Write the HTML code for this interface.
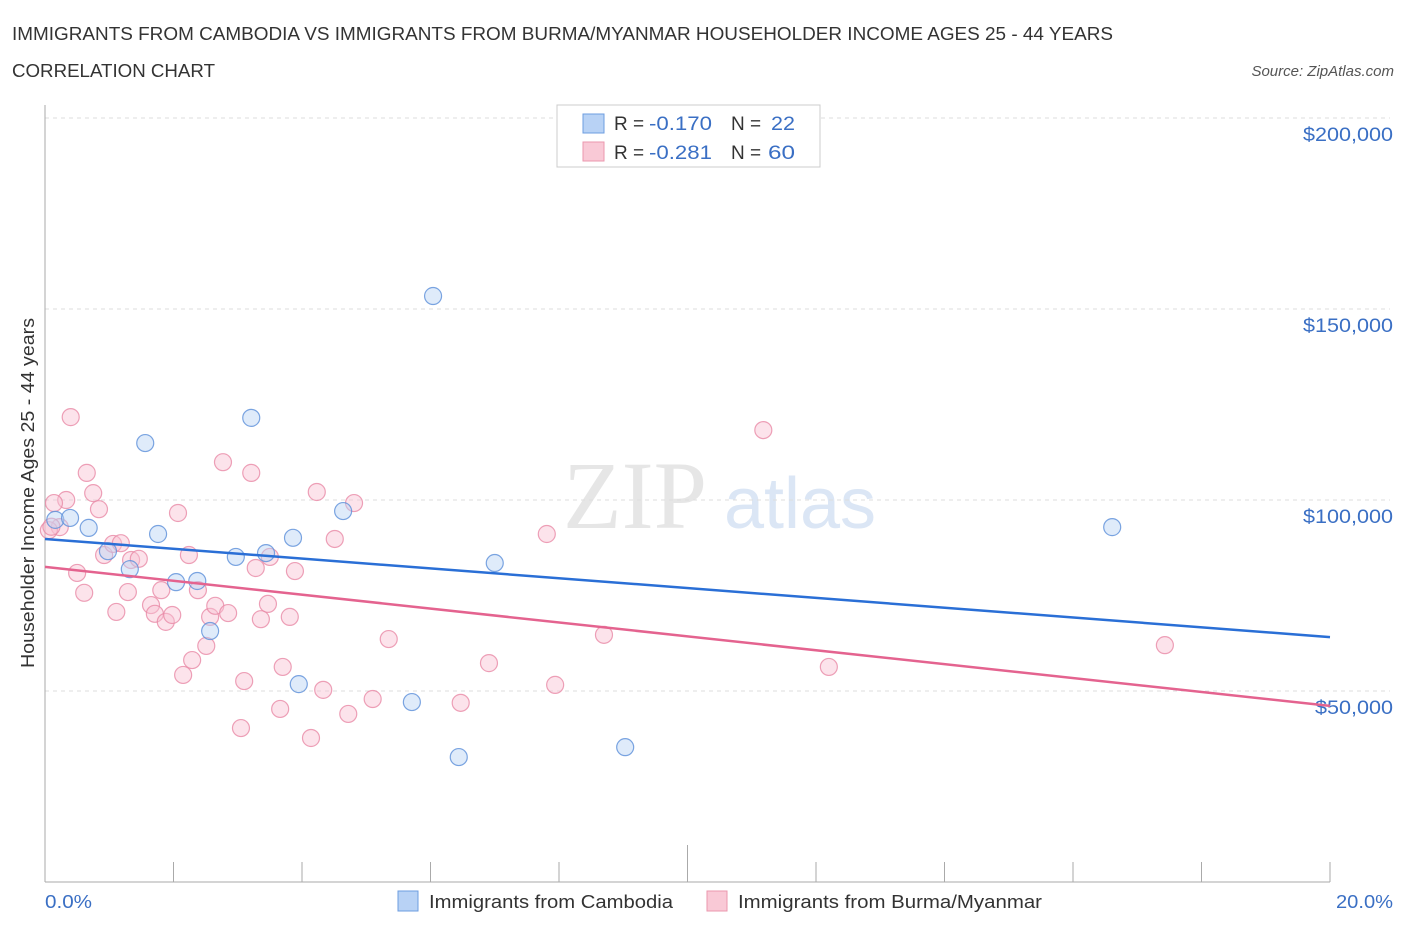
<!DOCTYPE html>
<html><head><meta charset="utf-8"><style>
body{margin:0;background:#fff;font-family:"Liberation Sans",sans-serif}
</style></head><body>
<svg id="chart" width="1406" height="930" xmlns="http://www.w3.org/2000/svg" font-family="Liberation Sans, sans-serif">
<text x="12" y="40" font-size="18" fill="#333" textLength="1101" lengthAdjust="spacingAndGlyphs">IMMIGRANTS FROM CAMBODIA VS IMMIGRANTS FROM BURMA/MYANMAR HOUSEHOLDER INCOME AGES 25 - 44 YEARS</text>
<text x="12" y="77" font-size="18" fill="#333" textLength="203" lengthAdjust="spacingAndGlyphs">CORRELATION CHART</text>
<text x="1394" y="76" font-size="15" fill="#555" font-style="italic" text-anchor="end">Source: ZipAtlas.com</text>
<text x="635" y="528" font-size="96" fill="#e6e6e6" text-anchor="middle" font-family="Liberation Serif, serif">ZIP</text>
<text x="800" y="528" font-size="72" fill="#dbe6f5" text-anchor="middle">atlas</text>
<g id="grid"></g><g id="axes"></g><g id="pts"></g><g id="lines"></g>
<text transform="translate(34,493) rotate(-90)" font-size="18" fill="#333" text-anchor="middle" textLength="350" lengthAdjust="spacingAndGlyphs">Householder Income Ages 25 - 44 years</text>
<text x="45" y="908" font-size="18" fill="#3a6fc4" textLength="47" lengthAdjust="spacingAndGlyphs">0.0%</text>
<text x="1393" y="908" font-size="18" fill="#3a6fc4" text-anchor="end" textLength="57" lengthAdjust="spacingAndGlyphs">20.0%</text>
<g>
<rect x="557" y="105" width="263" height="62" fill="#fff" stroke="#ccc"/>
<rect x="583" y="114" width="21" height="19" fill="#b8d2f5" stroke="#6d9de0"/>
<rect x="583" y="142" width="21" height="19" fill="#f9c9d6" stroke="#eb97ae"/>
<text x="614" y="130" font-size="19" fill="#333">R =</text>
<text x="649" y="130" font-size="19" fill="#3a6fc4" textLength="63" lengthAdjust="spacingAndGlyphs">-0.170</text>
<text x="731" y="130" font-size="19" fill="#333">N =</text>
<text x="771" y="130" font-size="19" fill="#3a6fc4" textLength="24" lengthAdjust="spacingAndGlyphs">22</text>
<text x="614" y="159" font-size="19" fill="#333">R =</text>
<text x="649" y="159" font-size="19" fill="#3a6fc4" textLength="63" lengthAdjust="spacingAndGlyphs">-0.281</text>
<text x="731" y="159" font-size="19" fill="#333">N =</text>
<text x="768" y="159" font-size="19" fill="#3a6fc4" textLength="27" lengthAdjust="spacingAndGlyphs">60</text>
</g>
<g>
<rect x="398" y="891" width="20" height="20" fill="#b8d2f5" stroke="#6d9de0"/>
<text x="429" y="908" font-size="18" fill="#333" textLength="244" lengthAdjust="spacingAndGlyphs">Immigrants from Cambodia</text>
<rect x="707" y="891" width="20" height="20" fill="#f9c9d6" stroke="#eb97ae"/>
<text x="738" y="908" font-size="18" fill="#333" textLength="304" lengthAdjust="spacingAndGlyphs">Immigrants from Burma/Myanmar</text>
</g>
</svg>
<script>
const yTicks=[50000,100000,150000,200000];
const yTickLabels=["$50,000","$100,000","$150,000","$200,000"];
const blueX=[0.16,0.39,0.68,0.98,1.32,1.56,1.76,2.04,2.37,2.57,2.97,3.21,3.44,3.86,4.64,3.95,5.71,6.04,6.44,7.00,9.03,16.61];
const blueY=[94.8,95.3,92.7,86.6,81.9,114.9,91.1,78.5,78.8,65.7,85.1,121.5,86.1,90.1,97.1,51.8,47.1,153.4,32.7,83.5,35.3,92.9];
const pinkX=[0.40,0.65,0.75,0.84,0.33,0.14,0.23,0.06,0.50,0.61,0.92,1.06,1.18,1.34,1.46,1.29,1.11,1.65,1.71,1.88,1.98,1.81,2.07,2.24,2.38,2.15,2.29,2.51,2.57,2.65,2.85,2.77,3.21,3.28,3.47,3.36,3.50,3.10,3.05,3.70,3.66,3.81,3.89,4.23,4.51,4.81,4.33,4.14,4.72,5.10,5.35,6.47,6.91,7.81,7.94,8.70,11.18,12.20,17.43,0.10];
const pinkY=[121.7,107.1,101.8,97.6,100.0,99.2,92.9,92.1,80.9,75.7,85.6,88.5,88.7,84.3,84.6,75.9,70.7,72.5,70.2,68.1,69.9,76.4,96.6,85.6,76.4,54.2,58.1,61.8,69.4,72.3,70.4,109.9,107.1,82.2,72.8,68.8,85.1,52.6,40.3,56.3,45.3,69.4,81.4,102.1,89.8,99.2,50.3,37.7,44.0,47.9,63.6,46.9,57.3,91.1,51.6,64.7,118.3,56.3,62.0,93.0];
const blueTrend=[89.8,64.1];
const pinkTrend=[82.5,46.1];
const NS="http://www.w3.org/2000/svg";
const X=v=>45+v/20*1285;
const Y=v=>691-(v-50000)*191/50000;
function mk(t,a,p){const e=document.createElementNS(NS,t);for(const k in a)e.setAttribute(k,a[k]);p.appendChild(e);return e;}
const grid=document.getElementById('grid'),axes=document.getElementById('axes'),pts=document.getElementById('pts'),lines=document.getElementById('lines');
yTicks.forEach((t,i)=>{
 const l=mk('line',{x1:45,x2:1390,y1:Y(t),y2:Y(t),stroke:'#ddd','stroke-dasharray':'4,4'},grid);
 
 
 const tx=mk('text',{x:1393,y:Y(t)+23,'font-size':19,fill:'#3a6fc4','text-anchor':'end',textLength:yTickLabels[i].length>7?90:78,lengthAdjust:'spacingAndGlyphs'},grid);
 tx.textContent=yTickLabels[i];
 
 
});
const ya=mk('line',{x1:45,x2:45,y1:105,y2:882,stroke:'#aaa'},axes);


const xa=mk('line',{x1:45,x2:1330,y1:882,y2:882,stroke:'#aaa'},axes);


for(let i=0;i<=10;i++){
 const tk=mk('line',{x1:X(i*2),x2:X(i*2),y1:i==5?845:862,y2:882,stroke:'#aaa'},axes);
 
 
}
function dots(xs,ys,fill,stroke,name){
 xs.forEach((x,i)=>{
  const c=mk('circle',{cx:X(x),cy:Y(ys[i]*1000),r:8.5,fill:fill,'fill-opacity':0.45,stroke:stroke,'stroke-opacity':0.8,'stroke-width':1.2},pts);
  
  
 });
}
dots(pinkX,pinkY,'#f9c2d2','#e88aa6','burma-point');
dots(blueX,blueY,'#b8d2f5','#5b8fd9','cambodia-point');
const bl=mk('line',{x1:X(0),x2:X(20),y1:Y(blueTrend[0]*1000),y2:Y(blueTrend[1]*1000),stroke:'#2a6fd6','stroke-width':2.5},lines);


const pl=mk('line',{x1:X(0),x2:X(20),y1:Y(pinkTrend[0]*1000),y2:Y(pinkTrend[1]*1000),stroke:'#e4638f','stroke-width':2.5},lines);


</script>
</body></html>
